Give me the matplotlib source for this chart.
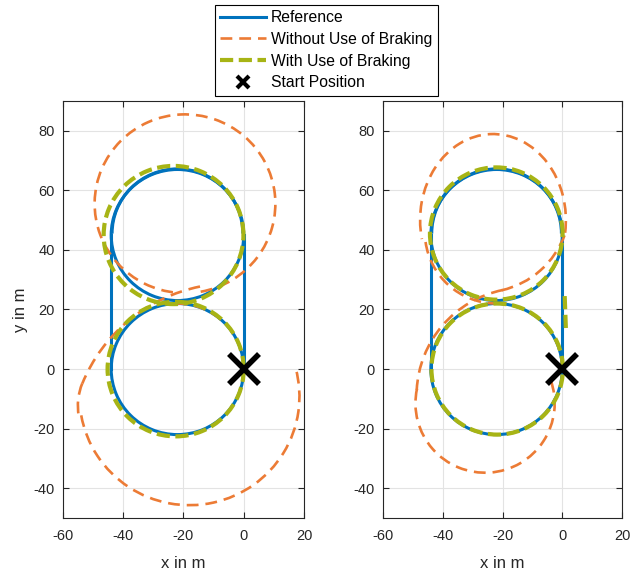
import matplotlib
matplotlib.use('Agg')
import matplotlib.pyplot as plt
from matplotlib.patches import Arc
from matplotlib.lines import Line2D

plt.rcParams['font.family'] = ['Liberation Sans', 'DejaVu Sans']
plt.rcParams['lines.scale_dashes'] = False
plt.rcParams['axes.unicode_minus'] = False

# reference path: arcs (centre, radius, angle range) and two straight pieces
ref_cx = [-22, -22, -22]
ref_cy = [0, 45, 45.5]
ref_r = [22, 22, 21.7]
ref_t1 = [0, 0, 0]
ref_t2 = [360, 360, 180]
ref_line_x = [[0, 0], [-44, -44]]
ref_line_y = [[0, 45], [0, 45]]

# without braking, left case
nb_l_cx = [-22, -19.5, -3.7, -35.06, -18]
nb_l_cy = [0, 55.5, -25, -12.3, -9.2]
nb_l_rx = [22, 30, 53.8, 20, 36.5]
nb_l_ry = [22, 30, 53.8, 20, 36.5]
nb_l_t1 = [0, -80, 101.6, 158, 190]
nb_l_t2 = [95, 265, 158, 190, 375]

# with braking, left case
wb_l_cx = [-23.3, -22.6]
wb_l_cy = [45, 0]
wb_l_rx = [23.2, 22.6]
wb_l_ry = [23.2, 22.6]
wb_l_t1 = [0, 0]
wb_l_t2 = [360, 360]

# without braking, right case
nb_r_cx = [-22, -22, -23.2, -26.9, -12.67, -25.85]
nb_r_cy = [0, 46, 50, 55.2, -8.83, -11.5]
nb_r_rx = [22, 24, 24.4, 29.5, 36.1, 23.3]
nb_r_ry = [22, 24, 28.9, 29.5, 36.1, 23.3]
nb_r_t1 = [0, 188, -10, -77, 101.7, 168]
nb_r_t2 = [92, 268, 195, -20, 177.1, 380]

# with braking, right case
wb_r_cx = [-22.1, -21.8]
wb_r_cy = [45.5, 0]
wb_r_rx = [22.2, 22]
wb_r_ry = [22.2, 22]
wb_r_t1 = [0, 0]
wb_r_t2 = [360, 360]
wb_r_line_x = [0.8, 1.2]
wb_r_line_y = [24.5, 13.5]

start_x = [0]
start_y = [0]

blue = '#0072BD'
orange = '#EC7B35'
green = '#A7B415'

ref_style = dict(color=blue, lw=2.2)
nb_style = dict(color=orange, lw=1.9, ls=(0, (8.5, 5)))
wb_style = dict(color=green, lw=3.0, ls=(0, (9.5, 4)))


def draw_arcs(ax, cx, cy, rx, ry, t1, t2, style, z):
    for i in range(len(cx)):
        ax.add_patch(Arc((cx[i], cy[i]), 2 * rx[i], 2 * ry[i], theta1=t1[i], theta2=t2[i],
                         color=style['color'], lw=style['lw'], ls=style.get('ls', '-'),
                         zorder=z, capstyle='butt'))


def setup(ax, ylabel):
    ax.set_xlim(-60, 20)
    ax.set_ylim(-50, 90)
    ax.set_xticks(range(-60, 21, 20))
    ax.set_yticks(range(-40, 81, 20))
    ax.grid(True, color='#e3e3e3', lw=0.8)
    ax.set_axisbelow(True)
    ax.tick_params(direction='in', top=True, right=True, labelsize=10.5,
                   colors='#262626', length=4)
    ax.tick_params(axis='x', pad=8)
    ax.tick_params(axis='y', pad=6)
    for s in ax.spines.values():
        s.set_color('#262626')
        s.set_linewidth(0.8)
    ax.set_xlabel('x in m', fontsize=12, color='#262626', labelpad=9)
    if ylabel:
        ax.set_ylabel('y in m', fontsize=12, color='#262626', labelpad=4)


fig = plt.figure(figsize=(6.3, 5.76), dpi=100)
ax1 = fig.add_axes([0.1, 0.1007, 0.3825, 0.724])
ax2 = fig.add_axes([0.608, 0.1007, 0.3794, 0.724])

cases = [
    (ax1, (nb_l_cx, nb_l_cy, nb_l_rx, nb_l_ry, nb_l_t1, nb_l_t2),
     (wb_l_cx, wb_l_cy, wb_l_rx, wb_l_ry, wb_l_t1, wb_l_t2), None),
    (ax2, (nb_r_cx, nb_r_cy, nb_r_rx, nb_r_ry, nb_r_t1, nb_r_t2),
     (wb_r_cx, wb_r_cy, wb_r_rx, wb_r_ry, wb_r_t1, wb_r_t2), (wb_r_line_x, wb_r_line_y)),
]

for ax, nb, wb, extra in cases:
    draw_arcs(ax, ref_cx, ref_cy, ref_r, ref_r, ref_t1, ref_t2, ref_style, 2)
    for lx, ly in zip(ref_line_x, ref_line_y):
        ax.plot(lx, ly, zorder=2, **ref_style)
    draw_arcs(ax, *nb, nb_style, 3)
    draw_arcs(ax, *wb, wb_style, 4)
    if extra is not None:
        ax.plot(extra[0], extra[1], zorder=4, **wb_style)
    ax.plot(start_x, start_y, ls='none', marker='x', color='k', ms=21, mew=4, zorder=5)
    setup(ax, ax is ax1)

handles = [
    Line2D([], [], **ref_style),
    Line2D([], [], **nb_style),
    Line2D([], [], **wb_style),
    Line2D([], [], ls='none', marker='x', color='k', ms=8, mew=3),
]
labels = ['Reference', 'Without Use of Braking', 'With Use of Braking', 'Start Position']
leg = fig.legend(handles, labels, loc='upper center', bbox_to_anchor=(0.518, 0.997),
                 fontsize=11.3, handlelength=2.9, handletextpad=0.32, labelspacing=0.42,
                 borderpad=0.35, borderaxespad=0.2, fancybox=False, edgecolor='k',
                 framealpha=1)
leg.get_frame().set_linewidth(0.8)

fig.savefig('out.png', dpi=100)
